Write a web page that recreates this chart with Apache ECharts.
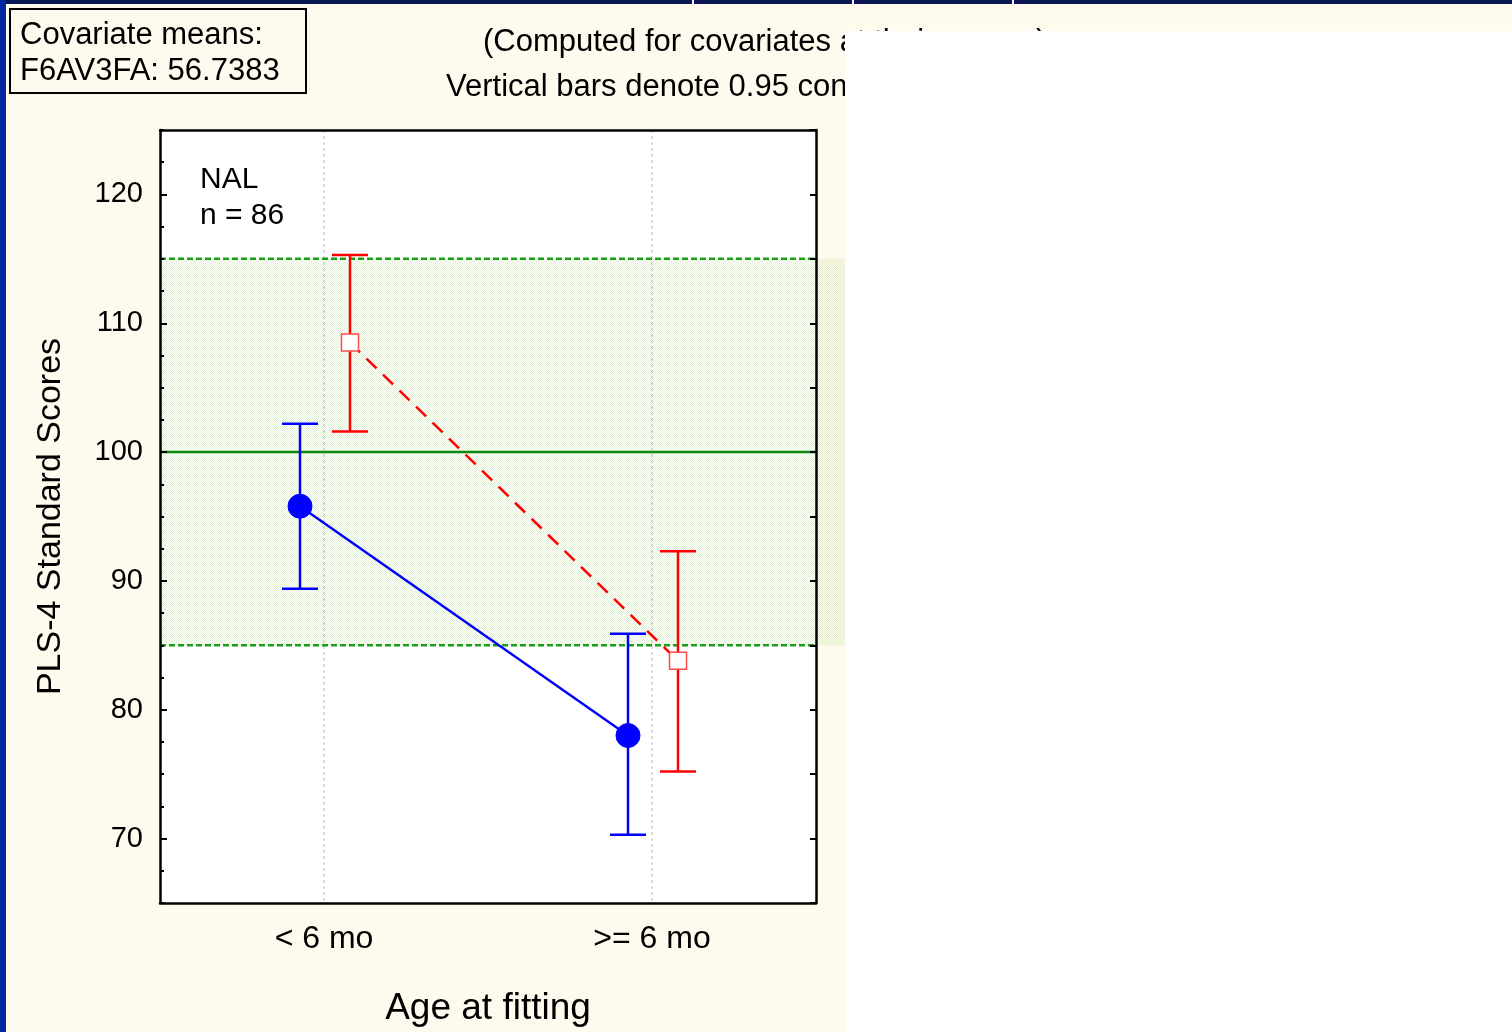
<!DOCTYPE html>
<html>
<head>
<meta charset="utf-8">
<script src="https://cdn.jsdelivr.net/npm/echarts@6/dist/echarts.min.js"></script>
<style>
  html, body { margin: 0; padding: 0; background: #ffffff; }
  #chart { width: 1512px; height: 1032px; }
</style>
</head>
<body>
<div id="chart"></div>
<script>
// ---- data ----
const categories = ['< 6 mo', '>= 6 mo'];
const yTickLabels = [70, 80, 90, 100, 110, 120];

// filled circles, solid line: adjusted means with 0.95 confidence limits
const blueMeans = [95.8, 78.0];
const blueLower = [89.4, 70.3];
const blueUpper = [102.2, 85.9];

// open squares, dashed line
const redMeans = [108.5, 83.8];
const redLower = [101.6, 75.2];
const redUpper = [115.3, 92.3];

// normative band (mean +/- 1 SD)
const normRange = [85, 115];
const normMean = [100];

const groupNote = ['NAL', 'n = 86'];
const covariateLines = ['Covariate means:', 'F6AV3FA: 56.7383'];
const titleLines = ['(Computed for covariates at their means)', 'Vertical bars denote 0.95 confidence intervals'];

// ---- styling ----
const FONT = '"Liberation Sans", Arial, sans-serif';
const CREAM = '#FFFAEE';

// fine dotted fill for the normative band
function dotPattern() {
  const c = document.createElement('canvas');
  c.width = 2; c.height = 2;
  const g = c.getContext('2d');
  g.fillStyle = 'rgba(175,218,140,0.38)';
  g.fillRect(0, 0, 1, 1);
  g.fillRect(1, 1, 1, 1);
  return c;
}
const bandFill = { image: dotPattern(), repeat: 'repeat' };

function bandSeries() {
  return {
    type: 'custom',
    z: 1,
    clip: false,
    silent: true,
    data: [[0, normRange[0], normRange[1], normMean[0]]],
    encode: { x: 0, y: 1 },
    renderItem(params, api) {
      const cs = params.coordSys;
      const yLow = api.coord([0, api.value(1)])[1];
      const yHigh = api.coord([0, api.value(2)])[1];
      const yMid = api.coord([0, api.value(3)])[1];
      const children = [];
      children.push({
        type: 'rect',
        shape: { x: cs.x, y: yHigh, width: cs.width + 40, height: yLow - yHigh },
        style: { fill: bandFill }
      });
      // dotted reference lines at each category
      categories.forEach((c, i) => {
        const x = api.coord([i, 0])[0];
        children.push({
          type: 'line',
          shape: { x1: x, y1: cs.y, x2: x, y2: cs.y + cs.height },
          style: { stroke: '#B8B8B8', lineWidth: 1, lineDash: [3, 3] }
        });
      });
      [yLow, yHigh].forEach(y => {
        children.push({
          type: 'line',
          shape: { x1: cs.x, y1: y, x2: cs.x + cs.width, y2: y },
          style: { stroke: '#18A018', lineWidth: 2.5, lineDash: [6, 3] }
        });
      });
      children.push({
        type: 'line',
        shape: { x1: cs.x, y1: yMid, x2: cs.x + cs.width, y2: yMid },
        style: { stroke: '#0E880E', lineWidth: 2.5 }
      });
      return { type: 'group', children };
    }
  };
}

function groupSeries(name, means, lower, upper, cfg) {
  return {
    name,
    type: 'custom',
    z: 3,
    clip: false,
    data: means.map((m, i) => [i, m, lower[i], upper[i]]),
    encode: { x: 0, y: [1, 2, 3] },
    renderItem(params, api) {
      const i = api.value(0);
      const p = api.coord([i, api.value(1)]);
      const x = p[0] + cfg.dx;
      const yLo = api.coord([i, api.value(2)])[1];
      const yHi = api.coord([i, api.value(3)])[1];
      const children = [];
      if (i < means.length - 1) {
        const q = api.coord([i + 1, means[i + 1]]);
        children.push({
          type: 'line',
          shape: { x1: x, y1: p[1], x2: q[0] + cfg.dx, y2: q[1] },
          style: { stroke: cfg.color, lineWidth: cfg.lineWidth, lineDash: cfg.dash || null }
        });
      }
      const cap = 18;
      const bar = { stroke: cfg.color, lineWidth: 2.5 };
      children.push({ type: 'line', shape: { x1: x, y1: yHi, x2: x, y2: yLo }, style: bar });
      children.push({ type: 'line', shape: { x1: x - cap, y1: yHi, x2: x + cap, y2: yHi }, style: bar });
      children.push({ type: 'line', shape: { x1: x - cap, y1: yLo, x2: x + cap, y2: yLo }, style: bar });
      if (cfg.marker === 'circle') {
        children.push({
          type: 'circle',
          shape: { cx: x, cy: p[1], r: 12 },
          style: { fill: cfg.color, stroke: cfg.color, lineWidth: 1 }
        });
      } else {
        const s = 17;
        children.push({
          type: 'rect',
          shape: { x: x - s / 2, y: p[1] - s / 2, width: s, height: s },
          style: { fill: '#FFFFFF', stroke: '#FF4A4A', lineWidth: 1.5 }
        });
      }
      return { type: 'group', children };
    }
  };
}

const axisLineStyle = { color: '#000', width: 2.5 };
const tickStyle = { color: '#000', width: 2 };

const option = {
  backgroundColor: CREAM,
  animation: false,
  grid: {
    left: 160, top: 130, width: 656, height: 773,
    show: true, backgroundColor: '#FFFFFF', borderWidth: 0
  },
  xAxis: [
    {
      type: 'category', data: categories, position: 'bottom', boundaryGap: true, z: 10,
      axisLine: { lineStyle: axisLineStyle },
      axisTick: { inside: true, alignWithLabel: true, length: 6, lineStyle: tickStyle },
      axisLabel: { color: '#000', fontSize: 32, fontFamily: FONT, margin: 20 },
      splitLine: { show: false },
      name: 'Age at fitting', nameLocation: 'middle', nameGap: 87,
      nameTextStyle: { color: '#000', fontSize: 37, fontFamily: FONT }
    },
    {
      type: 'category', data: categories, position: 'top', boundaryGap: true, z: 10,
      axisLine: { lineStyle: axisLineStyle },
      axisTick: { inside: true, alignWithLabel: true, length: 6, lineStyle: tickStyle },
      axisLabel: { show: false },
      splitLine: { show: false }
    }
  ],
  yAxis: [
    {
      type: 'value', min: 65, max: 125, position: 'left', z: 10,
      axisLine: { show: true, lineStyle: axisLineStyle },
      axisTick: { show: true, inside: true, length: 7, lineStyle: tickStyle, customValues: yTickLabels },
      axisLabel: { color: '#000', fontSize: 29, fontFamily: FONT, margin: 17, customValues: yTickLabels },
      splitLine: { show: false },
      name: 'PLS-4 Standard Scores', nameLocation: 'middle', nameGap: 92, nameRotate: 90,
      nameTextStyle: { color: '#000', fontSize: 34, fontFamily: FONT }
    },
    {
      type: 'value', min: 65, max: 125, interval: 2.5, position: 'left', z: 10,
      axisLine: { show: false },
      axisTick: { show: true, inside: true, length: 4, lineStyle: tickStyle },
      axisLabel: { show: false },
      splitLine: { show: false }
    },
    {
      type: 'value', min: 65, max: 125, interval: 5, position: 'right', z: 10,
      axisLine: { show: true, lineStyle: axisLineStyle },
      axisTick: { show: true, inside: true, length: 6, lineStyle: tickStyle },
      axisLabel: { show: false },
      splitLine: { show: false }
    }
  ],
  series: [
    bandSeries(),
    groupSeries('blue', blueMeans, blueLower, blueUpper,
      { color: '#0000FF', dx: -24, marker: 'circle', lineWidth: 2.4 }),
    groupSeries('red', redMeans, redLower, redUpper,
      { color: '#FF0000', dx: 26, marker: 'square', lineWidth: 2.5, dash: [14, 9] })
  ],
  graphic: [
    // heading lines
    { type: 'text', z: 50, style: { text: titleLines[0], x: 483, y: 42, font: '31px ' + FONT, fill: '#000', verticalAlign: 'middle', align: 'left' } },
    { type: 'text', z: 50, style: { text: titleLines[1], x: 446, y: 87, font: '31px ' + FONT, fill: '#000', verticalAlign: 'middle', align: 'left' } },
    // covariate box
    { type: 'rect', z: 50, shape: { x: 10, y: 9, width: 296, height: 84 }, style: { fill: CREAM, stroke: '#000', lineWidth: 2 } },
    { type: 'text', z: 51, style: { text: covariateLines[0], x: 20, y: 35, font: '31px ' + FONT, fill: '#000', verticalAlign: 'middle' } },
    { type: 'text', z: 51, style: { text: covariateLines[1], x: 20, y: 71, font: '31px ' + FONT, fill: '#000', verticalAlign: 'middle' } },
    // group note inside the plot
    { type: 'text', z: 51, style: { text: groupNote[0], x: 200, y: 180, font: '30px ' + FONT, fill: '#000', verticalAlign: 'middle' } },
    { type: 'text', z: 51, style: { text: groupNote[1], x: 200, y: 216, font: '30px ' + FONT, fill: '#000', verticalAlign: 'middle' } },
    // page frame
    { type: 'rect', z: 100, shape: { x: 845, y: 31, width: 667, height: 1001 }, style: { fill: '#FFFFFF' } },
    { type: 'rect', z: 100, shape: { x: 0, y: 0, width: 1512, height: 4 }, style: { fill: '#0B1655' } },
    { type: 'rect', z: 100, shape: { x: 0, y: 0, width: 6, height: 1032 }, style: { fill: '#0026A0' } },
    { type: 'rect', z: 101, shape: { x: 692, y: 0, width: 2, height: 4 }, style: { fill: '#FFFFFF' } },
    { type: 'rect', z: 101, shape: { x: 852, y: 0, width: 2, height: 4 }, style: { fill: '#FFFFFF' } },
    { type: 'rect', z: 101, shape: { x: 1012, y: 0, width: 2, height: 4 }, style: { fill: '#FFFFFF' } }
  ]
};

const chart = echarts.init(document.getElementById('chart'), null, { renderer: 'canvas' });
chart.setOption(option);
</script>
</body>
</html>
